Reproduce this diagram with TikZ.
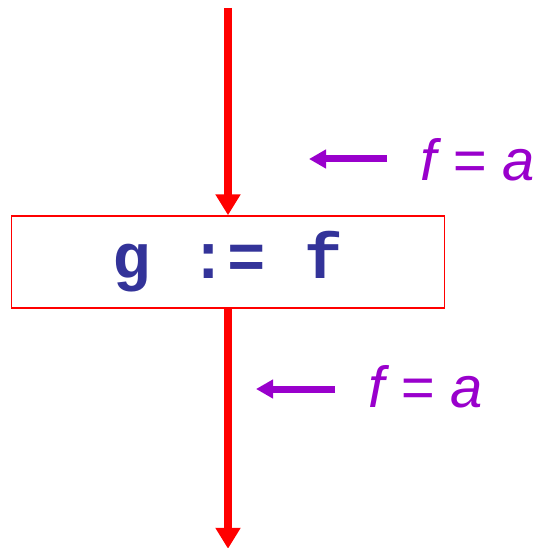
\documentclass[tikz,border=0pt]{standalone}
\usepackage{fontspec}
\usepackage{tikz}
\usetikzlibrary{arrows.meta, positioning}
\newfontfamily\codefont{Liberation Mono}
\newfontfamily\factfont{Liberation Sans}
\definecolor{flowred}{RGB}{255, 0, 0}
\definecolor{factpurple}{RGB}{153, 0, 204}
\definecolor{stmtblue}{RGB}{51, 51, 153}
\tikzset{
  >=Stealth,
  flowarrow/.style={-{Triangle[length=21pt, width=24pt]}, line width=8pt, flowred},
  factarrow/.style={-{Triangle[length=17pt, width=18pt]}, line width=7pt, factpurple},
  stmtbox/.style={draw=flowred, line width=1.5pt, minimum width=433pt, minimum height=92pt, text=stmtblue, font={\codefont\bfseries\fontsize{64}{64}\selectfont}},
  factlabel/.style={text=factpurple, font={\factfont\itshape\fontsize{58}{58}\selectfont}, inner sep=0pt, anchor=base west}
}
\begin{document}
\begin{tikzpicture}[x=1pt, y=-1pt]
    \useasboundingbox (0,0) rectangle (535,548);
    \node (assign) [stmtbox] at (228,262) {g := f};
    \coordinate (entry) at (228,8);
    \coordinate (exit) at ([yshift=-240pt]assign.south);
    \draw[flowarrow] (entry) -- (assign.north);
    \draw[flowarrow] (assign.south) -- (exit);
    % facts before and after the statement
    \node (factin) [factlabel] at (420,180) {f = a};
    \node (factout) [factlabel] at (368,407) {f = a};
    \coordinate (inTail) at (387,159);
    \coordinate (inTip) at (309,159);
    \coordinate (outTail) at (335,389);
    \coordinate (outTip) at (256,389);
    \draw[factarrow] (inTail) -- (inTip);
    \draw[factarrow] (outTail) -- (outTip);
\end{tikzpicture}
\end{document}
